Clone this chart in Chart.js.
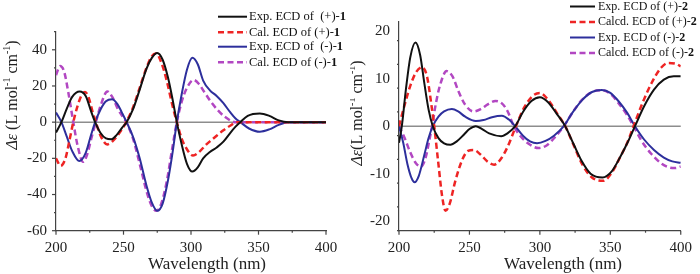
<!DOCTYPE html>
<html>
<head>
<meta charset="utf-8">
<script src="https://cdn.jsdelivr.net/npm/chart.js@4/dist/chart.umd.min.js"></script>
<style>
html, body { margin: 0; padding: 0; background: #fff; }
#wrap { position: relative; width: 700px; height: 274px; overflow: hidden; }
.panel { position: absolute; top: 0; width: 350px; height: 274px; }
</style>
</head>
<body>
<div id="wrap">
  <div class="panel" style="left:0"><canvas id="chartLeft" width="350" height="274"></canvas></div>
  <div class="panel" style="left:350px"><canvas id="chartRight" width="350" height="274"></canvas></div>
</div>
<script>
// ---- panel 1 : compound 1 ----
var xTicks = [200, 250, 300, 350, 400];
var yTicksLeft = [-60, -40, -20, 0, 20, 40];
var yTicksRight = [-20, -10, 0, 10, 20];

var expPlus1Nm = [200,204,208,212,217.5,222,226,229,233,237,241,245,249,252.3,257,262,267,271,275,279,283,286.5,289.5,293,297,301,305,309,314,319,324,329,333,336.5,342,351,358,365,372,400];
var expPlus1Val = [-5.7,0,7.5,14,17,14.5,6,0,-6,-9,-9.5,-7,-3,0,7,18,29.5,35.5,38.2,34.5,24.5,12,0,-12,-23,-27.3,-25,-20,-16.5,-14,-10.8,-6,-2.5,0,3.5,4.8,3.5,1,0,0];

var calPlus1Nm = [200,203.5,207,210,212.8,216,219,221.5,224,227,229.5,233,238,242,246,252,257,262,267,271,274,278,282,286,289.5,293,297,301.5,306,311,315,319,324,329,334,400];
var calPlus1Val = [-20,-24.2,-20,-10,0,9,15,16.7,14,6,0,-7.5,-12.3,-10.5,-7,0,8,19,30,36.5,38,33,23,10,0,-9,-15,-18.5,-16.5,-12.6,-10,-7.5,-4.5,-2,0,0];

var expMinus1Nm = [200,204,208,212,217.3,222,226,229,233,237,241.5,245.5,249,252.3,257,262,267,271,275,279,283,286.5,289.5,293,297,301,305,309,314,319,324,329,333,336.5,343,351,358,365,372,400];
var expMinus1Val = [5.3,0,-8,-16,-21.5,-17,-7,0,7,11.5,12.7,10,5,0,-8,-20,-35,-44.5,-49,-45,-32,-16,0,15,29,35.6,32,23,17.6,14.5,10.5,5.5,2,0,-3.5,-5.3,-4,-1.5,0,0];

var calMinus1Nm = [200,203,206,209,212.8,216,220,223,226.5,229.5,233,238,242,246,252,257,262,267,271,274.5,278,282,286,289.5,293,297,302,306,310,315,320,325,333,400];
var calMinus1Val = [26,31,28,17,0,-13,-21.9,-18,-8,0,9,17,13.5,7,0,-9,-23,-38,-46.5,-49,-45,-33,-15,0,11,19,23.3,21,16.5,11,6.5,3,0,0];

// ---- panel 2 : compound 2 ----
var expPlus2Nm = [200,202,205,208,211.7,215,218,221,224,228,232,236.5,241,246,250,254.5,259,264,272.5,277,282.5,288,294,300,306,312,318,324,330,336,344.5,351,357,362,367.5,374,381,388,395,400];
var expPlus2Val = [-3.5,0,8,14.5,17.6,15,9,3.5,0,-2.5,-3.6,-3.9,-3.2,-1.8,-0.6,0,-0.6,-1.5,-2.1,-1.5,0,3,5.3,6.1,5,2.6,0,-3.8,-7.5,-10,-10.8,-9.5,-6.5,-3.6,0,4.2,7.7,9.8,10.5,10.5];

var calcPlus2Nm = [200,204,208,212,216.5,220,223,225,228,230.5,233,236,240,245,249,253,258,263,267.5,272,277,283,289,295,300,306,312,318,324,330,337,345,351,357,362,366.5,373,380,386,391,396,400];
var calcPlus2Val = [0,4.5,8.5,11.3,12.4,10.3,4.5,0,-8,-14.5,-17.8,-16.3,-11.5,-7,-5.2,-5,-6,-7.5,-8.1,-7,-4.4,0,4,6.4,7,5.5,2.8,0,-4,-8,-10.8,-11.5,-9.8,-6.5,-3.5,0,5,9.5,12.3,13.3,13.2,12.6];

var expMinus2Nm = [200,203,206,209,211,214,218,221,224,228,232,237.5,242,247,254.5,260,266,273,278,282.5,288,293,298,304,310,317,323,330,337,344,350,356,362,367.5,374,381,388,394,400];
var expMinus2Val = [0,-3.5,-8,-11,-11.8,-10.5,-6,-2.5,0,2,3.1,3.6,3.1,2,1.1,1.3,1.9,2.2,1.4,0,-2,-3.2,-3.6,-3.1,-2,0,2.8,5.5,7.2,7.6,7,5.2,2.8,0,-2.8,-5,-6.6,-7.4,-7.7];

var calcMinus2Nm = [200,204,208,212,215.7,219,221.5,223.5,226,229,233.8,238,242,247,253,258,263,268.5,273,277,281.5,286,292,299,305,311,317,323,330,337,344,350,356,362,366.5,372,379,386,392,396,400];
var calcMinus2Val = [0,-2.5,-5.5,-7.8,-8.5,-6.5,-3,0,4.5,8.5,11.6,10.5,7.5,4.5,3.1,3.6,4.6,5.3,4.8,3.2,0,-2,-3.7,-4.6,-4,-2.2,0,2.8,5.6,7.2,7.6,6.8,4.8,2.3,0,-3,-5.8,-7.8,-8.7,-8.8,-8.5];

var namesLeft = ["Exp. ECD of  (+)-", "Cal. ECD of (+)-", "Exp. ECD of  (-)-", "Cal. ECD of (-)-"];
var namesRight = ["Exp. ECD of (+)-", "Calcd. ECD of (+)-", "Exp. ECD of (-)-", "Calcd. ECD of (-)-"];
var colors = ["#111111", "#ee2424", "#2d2f9c", "#b247c2"];
var dashed = [false, true, false, true];

var SERIF = '"Liberation Serif", "Times New Roman", serif';

function toPoints(xs, ys) {
    return xs.map(function (x, i) { return { x: x, y: ys[i] }; });
}

function makeSets(series, names) {
    return series.map(function (s, i) {
        return {
            label: names[i],
            data: toPoints(s[0], s[1]),
            borderColor: colors[i],
            borderWidth: dashed[i] ? 2.5 : 2,
            borderDash: dashed[i] ? [6, 3.5] : [],
            cubicInterpolationMode: "monotone",
            pointRadius: 0,
            fill: false,
        };
    });
}

// zero line, minor/major ticks, legend and axis titles
var decoPlugin = {
    id: "deco",
    beforeDatasetsDraw: function (chart) {
        var ctx = chart.ctx, a = chart.chartArea;
        var py = chart.scales.y.getPixelForValue(0);
        ctx.save();
        ctx.strokeStyle = "#8d8d8d";
        ctx.lineWidth = 1.5;
        ctx.beginPath();
        ctx.moveTo(a.left, py);
        ctx.lineTo(a.right, py);
        ctx.stroke();
        ctx.restore();
    },
    afterDraw: function (chart, args, o) {
        var ctx = chart.ctx, a = chart.chartArea;
        var x = chart.scales.x, y = chart.scales.y;
        ctx.save();
        ctx.strokeStyle = "#444";
        ctx.lineWidth = 1.2;
        // y ticks
        for (var v = y.min; v <= y.max + 1e-6; v += o.yMinor) {
            var major = Math.abs(v % o.yMajor) < 1e-6;
            var p = y.getPixelForValue(v);
            ctx.beginPath();
            ctx.moveTo(a.left, p);
            ctx.lineTo(a.left - (major ? 4 : 2), p);
            ctx.stroke();
        }
        // x ticks
        for (var w = 200; w <= 400; w += 25) {
            var px = x.getPixelForValue(w);
            ctx.beginPath();
            ctx.moveTo(px, a.bottom);
            ctx.lineTo(px, a.bottom + (w % 50 === 0 ? 4 : 2));
            ctx.stroke();
        }

        // legend
        ctx.textBaseline = "middle";
        chart.data.datasets.forEach(function (ds, i) {
            var ry = o.legRows[i];
            ctx.strokeStyle = ds.borderColor;
            ctx.lineWidth = ds.borderWidth;
            ctx.setLineDash(ds.borderDash);
            ctx.beginPath();
            ctx.moveTo(o.legX0, ry);
            ctx.lineTo(o.legX1, ry);
            ctx.stroke();
            ctx.setLineDash([]);
            ctx.fillStyle = "#111";
            ctx.textAlign = "left";
            ctx.font = o.legFont + "px " + SERIF;
            ctx.fillText(ds.label, o.legText, ry);
            var tw = ctx.measureText(ds.label).width;
            ctx.font = "bold " + o.legFont + "px " + SERIF;
            ctx.fillText(o.compound, o.legText + tw, ry);
        });

        // x title
        ctx.fillStyle = "#222";
        ctx.textAlign = "center";
        ctx.font = "17px " + SERIF;
        ctx.fillText("Wavelength (nm)", o.xTitle[0], o.xTitle[1]);

        // y title (rotated, with superscripts)
        var parts = [
            { t: "\u0394\u03b5", f: "italic 16px " + SERIF, dy: 0 },
            { t: o.gap ? " (L mol" : "(L mol", f: "16px " + SERIF, dy: 0 },
            { t: "-1", f: "10px " + SERIF, dy: -6 },
            { t: " cm", f: "16px " + SERIF, dy: 0 },
            { t: "-1", f: "10px " + SERIF, dy: -6 },
            { t: ")", f: "16px " + SERIF, dy: 0 },
        ];
        var total = 0;
        parts.forEach(function (pt) { ctx.font = pt.f; pt.w = ctx.measureText(pt.t).width; total += pt.w; });
        ctx.translate(o.yTitle[0], o.yTitle[1]);
        ctx.rotate(-Math.PI / 2);
        ctx.textAlign = "left";
        var cx = -total / 2;
        parts.forEach(function (pt) {
            ctx.font = pt.f;
            ctx.fillText(pt.t, cx, pt.dy);
            cx += pt.w;
        });
        ctx.restore();
    },
};

function makePanel(id, sets, cfg) {
    return new Chart(document.getElementById(id).getContext("2d"), {
        type: "line",
        data: { datasets: sets },
        plugins: [decoPlugin],
        options: {
            responsive: false,
            animation: false,
            devicePixelRatio: 1,
            layout: { padding: { top: cfg.top, right: cfg.right, left: 0, bottom: 0 } },
            plugins: {
                legend: { display: false },
                tooltip: { enabled: false },
                deco: cfg.deco,
            },
            scales: {
                x: {
                    type: "linear",
                    min: 200,
                    max: 400,
                    afterBuildTicks: function (s) { s.ticks = xTicks.map(function (v) { return { value: v }; }); },
                    afterFit: function (s) { s.height = cfg.bottom; },
                    grid: { display: false, drawTicks: false },
                    border: { color: "#444", width: 1.2 },
                    ticks: { padding: 8, maxRotation: 0, color: "#222", font: { family: SERIF, size: 15 } },
                },
                y: {
                    type: "linear",
                    min: cfg.yMin,
                    max: cfg.yMax,
                    afterBuildTicks: function (s) { s.ticks = cfg.yTicks.map(function (v) { return { value: v }; }); },
                    afterFit: function (s) { s.width = cfg.left; },
                    grid: { display: false, drawTicks: false },
                    border: { color: "#444", width: 1.2 },
                    ticks: { padding: 9, color: "#222", font: { family: SERIF, size: 15 } },
                },
            },
        },
    });
}

makePanel("chartLeft", makeSets([
    [expPlus1Nm, expPlus1Val],
    [calPlus1Nm, calPlus1Val],
    [expMinus1Nm, expMinus1Val],
    [calMinus1Nm, calMinus1Val],
], namesLeft), {
    top: 31.7, right: 24, bottom: 43.3, left: 56,
    yMin: -60, yMax: 50, yTicks: yTicksLeft,
    deco: {
        yMajor: 20, yMinor: 10, compound: "1", gap: true, legFont: 12.5,
        legX0: 218, legX1: 247, legText: 249, legRows: [16.7, 32.3, 46.7, 62.3],
        xTitle: [207, 265], yTitle: [13, 95],
    },
});

makePanel("chartRight", makeSets([
    [expPlus2Nm, expPlus2Val],
    [calcPlus2Nm, calcPlus2Val],
    [expMinus2Nm, expMinus2Val],
    [calcMinus2Nm, calcMinus2Val],
], namesRight), {
    top: 21.7, right: 17, bottom: 43.3, left: 49,
    yMin: -22, yMax: 22, yTicks: yTicksRight,
    deco: {
        yMajor: 10, yMinor: 5, compound: "2", gap: false, legFont: 12,
        legX0: 220, legX1: 245, legText: 248, legRows: [6.5, 22, 37.5, 53],
        xTitle: [213, 265], yTitle: [8, 113],
    },
});
</script>
</body>
</html>
